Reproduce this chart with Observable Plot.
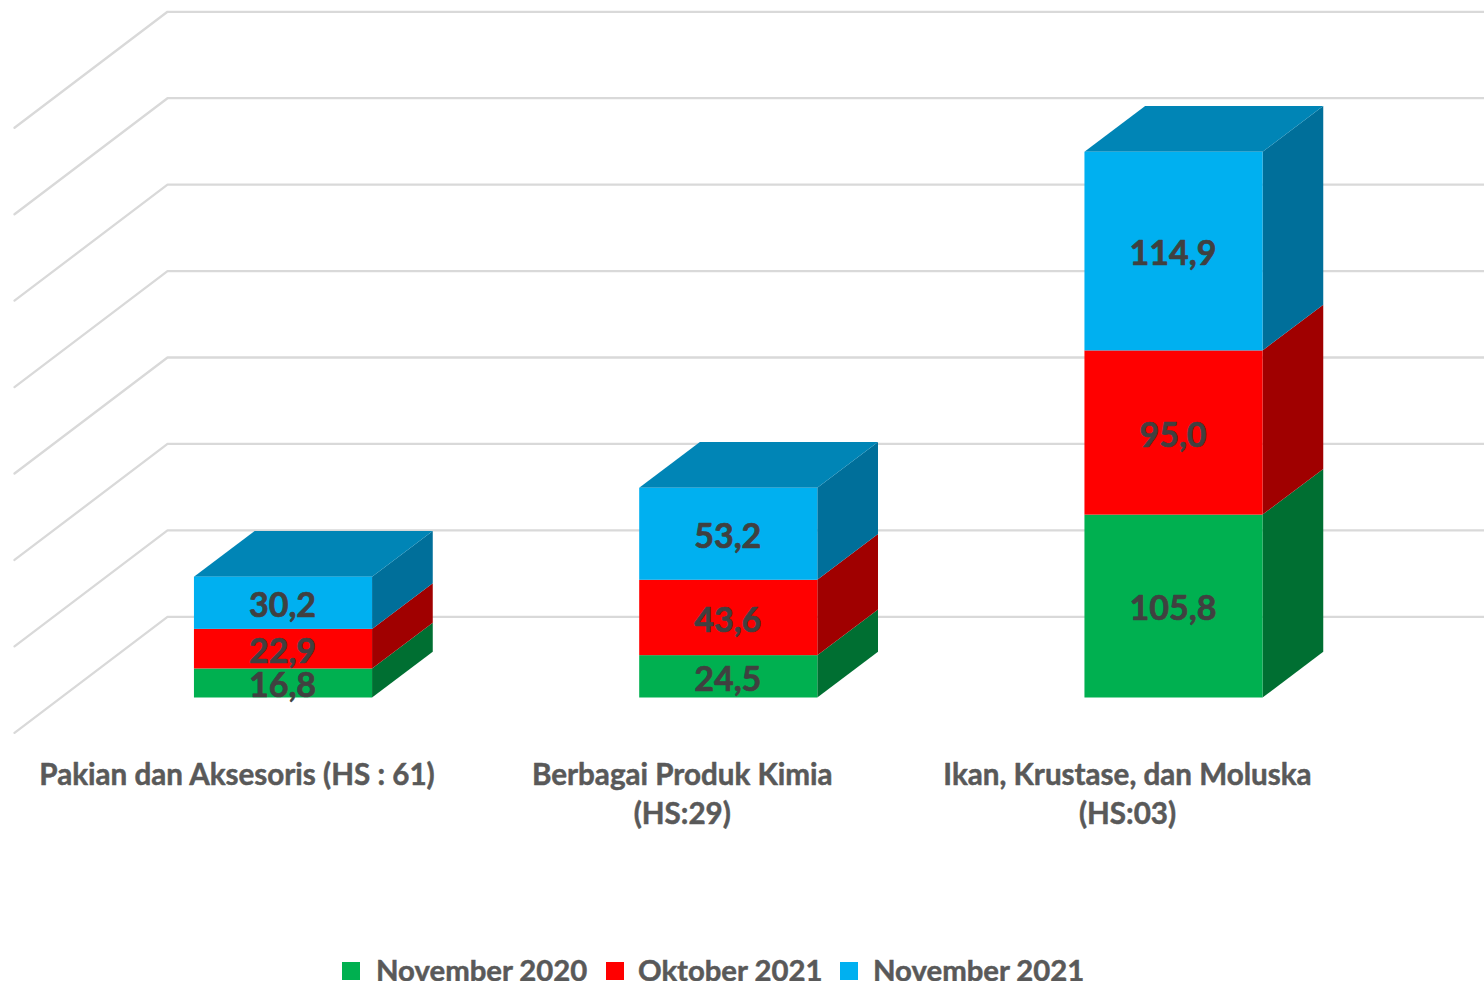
<!DOCTYPE html>
<html>
<head>
<meta charset="utf-8">
<script src="https://cdn.jsdelivr.net/npm/d3@7"></script>
<script src="https://cdn.jsdelivr.net/npm/@observablehq/plot@0.6"></script>
<style>
html,body{margin:0;padding:0;background:#fff;overflow:hidden}
#chart svg{display:block}
#legend{position:relative;height:26px;font:bold 29.3px Lato,sans-serif;color:#595959;white-space:nowrap;-webkit-text-stroke:0.5px #595959}
#legend .sw{position:absolute;top:7px;width:18px;height:18px}
#legend .lb{position:absolute;top:0;line-height:22px;margin-top:4px}
</style>
</head>
<body>
<div id="chart"></div>
<div id="legend"></div>
<script>
const categories = ["Pakian dan Aksesoris (HS : 61)", "Berbagai Produk Kimia\n(HS:29)", "Ikan, Krustase, dan Moluska\n(HS:03)"];
const seriesNames = ["November 2020", "Oktober 2021", "November 2021"];
const nov2020 = [16.8, 24.5, 105.8];
const okt2021 = [22.9, 43.6, 95.0];
const nov2021 = [30.2, 53.2, 114.9];
const seriesValues = [nov2020, okt2021, nov2021];
const frontColors = ["#00B050", "#FF0000", "#00B0F0"];
const sideColors = ["#006F32", "#A00000", "#006F9A"];
const topColors = ["#008A3E", "#C80000", "#0085B6"];
const gridValues = [0, 50, 100, 150, 200, 250, 300, 350];

// Layout expressed in scale units
const W = 1484, H = 955;
const pxPerCat = 445.25, pxPerVal = 1.7286;
const x0px = 283, y0px = 616.3;
const barW = 0.4;
const depthX = 60.7 / pxPerCat, depthY = 45.7 / pxPerVal;
const baseY = -(697.5 - y0px) / pxPerVal;
const wallLeft = -116 / pxPerCat, wallEnd = -269 / pxPerCat, wallDrop = 116 / pxPerVal;
const wallRight = (W - x0px) / pxPerCat;

const fmt = v => v.toFixed(1).replace(".", ",");

const fronts = [], polys = [], labels = [];
categories.forEach((c, i) => {
  let acc = 0;
  const xl = i - barW / 2, xr = i + barW / 2;
  seriesValues.forEach((vals, s) => {
    const v = vals[i], b = baseY + acc, t = b + v;
    acc += v;
    fronts.push({x1: xl, x2: xr, y1: b, y2: t, fill: frontColors[s]});
    labels.push({x: i, y: (b + t) / 2, text: fmt(v)});
    const id = `side-${i}-${s}`;
    polys.push({id, fill: sideColors[s], x1: xr, x2: xr, y1: b, y2: t});
    polys.push({id, fill: sideColors[s], x1: xr + depthX, x2: xr + depthX, y1: b + depthY, y2: t + depthY});
    if (s === seriesValues.length - 1) {
      const tid = `top-${i}`;
      polys.push({id: tid, fill: topColors[s], x1: xl, x2: xr, y1: t, y2: t});
      polys.push({id: tid, fill: topColors[s], x1: xl + depthX, x2: xr + depthX, y1: t + depthY, y2: t + depthY});
    }
  });
});

const grid = gridValues.flatMap(g => [
  {g, x: wallEnd, y: g - wallDrop},
  {g, x: wallLeft, y: g},
  {g, x: wallRight, y: g}
]);

const catLabels = categories.map((c, i) => ({x: i - 46.5 / pxPerCat, y: (y0px - 756.5) / pxPerVal, text: c}));

const plot = Plot.plot({
  width: W, height: H,
  margin: 0,
  style: {background: "#fff", fontFamily: "Lato, sans-serif", overflow: "visible"},
  x: {domain: [-x0px / pxPerCat, wallRight], range: [0, W], axis: null},
  y: {domain: [(y0px - H) / pxPerVal, y0px / pxPerVal], range: [H, 0], axis: null},
  color: {type: "identity"},
  marks: [
    Plot.line(grid, {x: "x", y: "y", z: "g", stroke: "#D9D9D9", strokeWidth: 2.3}),
    Plot.area(polys, {x1: "x1", y1: "y1", x2: "x2", y2: "y2", z: "id", fill: "fill", curve: "linear"}),
    Plot.rect(fronts, {x1: "x1", x2: "x2", y1: "y1", y2: "y2", fill: "fill"}),
    Plot.text(labels, {x: "x", y: "y", text: "text", dx: -1, dy: 3, fontSize: 34, fontWeight: "bold", fill: "#404040", stroke: "#404040", strokeWidth: 0.7}),
    Plot.text(catLabels, {x: "x", y: "y", text: "text", lineAnchor: "top", textAnchor: "middle", fontSize: 29.6, lineHeight: 39 / 29.6, fontWeight: "bold", fill: "#595959", stroke: "#595959", strokeWidth: 0.5})
  ]
});
document.getElementById("chart").appendChild(plot);

const legendSwX = [342, 606, 840], legendTxtX = [376, 638, 873];
const legend = document.getElementById("legend");
seriesNames.forEach((n, i) => {
  const sw = document.createElement("span");
  sw.className = "sw"; sw.style.left = legendSwX[i] + "px"; sw.style.background = frontColors[i];
  const lb = document.createElement("span");
  lb.className = "lb"; lb.style.left = legendTxtX[i] + "px"; lb.textContent = n;
  legend.append(sw, lb);
});
</script>
</body>
</html>
